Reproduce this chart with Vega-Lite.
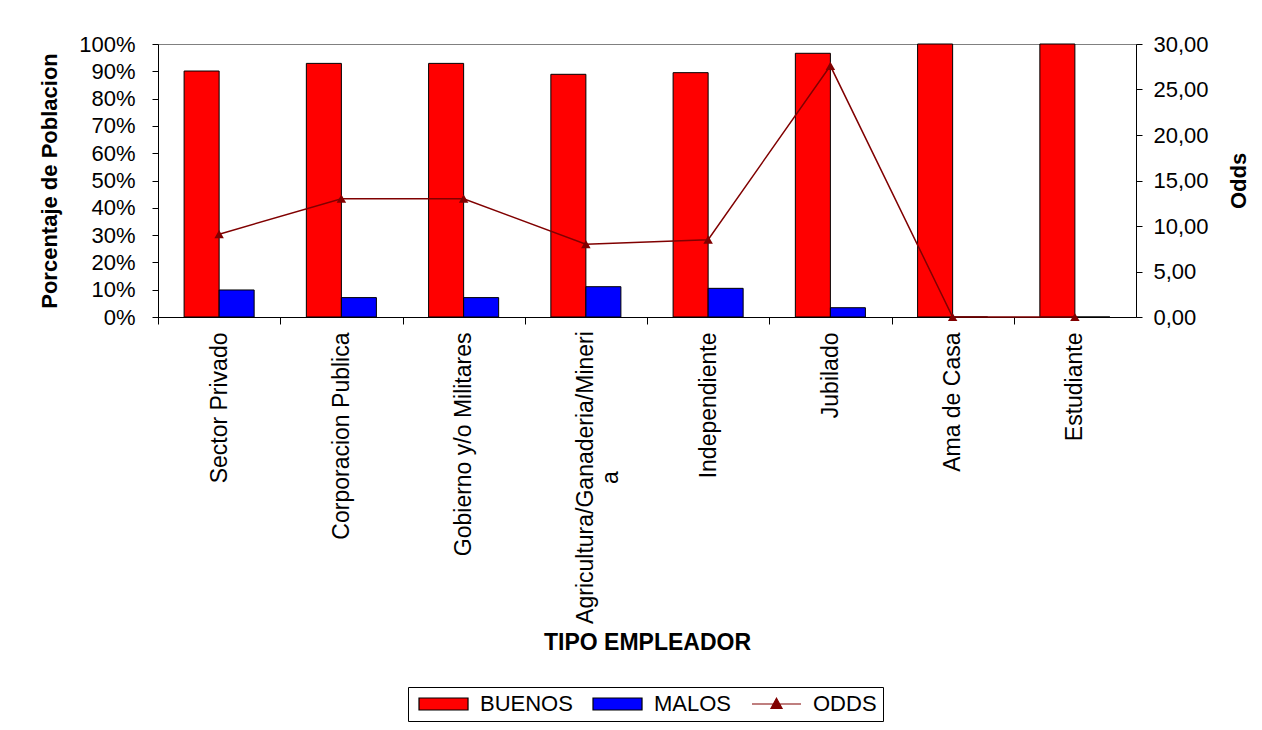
{
  "$schema": "https://vega.github.io/schema/vega-lite/v6.json",
  "width": 978,
  "height": 273,
  "autosize": {"type": "none"},
  "padding": {"left": 158, "top": 44, "right": 126, "bottom": 413},
  "background": "white",
  "data": {
    "values": [
      {"tipo": "Sector Privado", "BUENOS": 0.901, "MALOS": 0.099, "ODDS": 9.1},
      {"tipo": "Corporacion Publica", "BUENOS": 0.929, "MALOS": 0.071, "ODDS": 13.0},
      {"tipo": "Gobierno y/o Militares", "BUENOS": 0.929, "MALOS": 0.071, "ODDS": 13.0},
      {"tipo": "Agricultura/Ganaderia/Mineria", "BUENOS": 0.889, "MALOS": 0.111, "ODDS": 8.0},
      {"tipo": "Independiente", "BUENOS": 0.895, "MALOS": 0.105, "ODDS": 8.5},
      {"tipo": "Jubilado", "BUENOS": 0.966, "MALOS": 0.034, "ODDS": 27.6},
      {"tipo": "Ama de Casa", "BUENOS": 1.0, "MALOS": 0.0, "ODDS": 0.0},
      {"tipo": "Estudiante", "BUENOS": 1.0, "MALOS": 0.0, "ODDS": 0.0}
    ]
  },
  "config": {
    "view": {"stroke": "#808080", "strokeWidth": 1},
    "axis": {
      "grid": false,
      "domainColor": "black",
      "tickColor": "black",
      "labelColor": "black",
      "titleColor": "black",
      "labelFont": "Liberation Sans",
      "titleFont": "Liberation Sans",
      "labelFontWeight": "normal",
      "titleFontWeight": "bold",
      "labelLimit": 0
    },
    "legend": {"labelFont": "Liberation Sans", "labelLimit": 0}
  },
  "layer": [
    {
      "transform": [{"fold": ["BUENOS", "MALOS"], "as": ["serie", "valor"]}],
      "mark": {"type": "bar", "stroke": "black", "strokeWidth": 1},
      "encoding": {
        "x": {
          "field": "tipo",
          "type": "nominal",
          "sort": null,
          "scale": {"paddingInner": 0.427, "paddingOuter": 0.2135},
          "axis": {
            "title": "TIPO EMPLEADOR",
            "titleFontSize": 23,
            "titleBaseline": "top",
            "titleY": 314,
            "labelAngle": -90,
            "labelFontSize": 23,
            "labelLimit": 0,
            "labelAlign": {"condition": {"test": "datum.value == 'Agricultura/Ganaderia/Mineria'", "value": "center"}, "value": "right"},
            "labelPadding": {"condition": {"test": "datum.value == 'Agricultura/Ganaderia/Mineria'", "value": 153}, "value": 8},
            "tickSize": 7,
            "bandPosition": 0.5,
            "tickOffset": -61.125,
            "labelOffset": 61.125,
            "labelExpr": "datum.value == 'Agricultura/Ganaderia/Mineria' ? ['Agricultura/Ganaderia/Mineri', 'a'] : datum.value"
          }
        },
        "xOffset": {
          "field": "serie",
          "type": "nominal",
          "sort": ["BUENOS", "MALOS"],
          "scale": {"paddingInner": 0, "paddingOuter": 0}
        },
        "y": {
          "field": "valor",
          "type": "quantitative",
          "scale": {"domain": [0, 1], "nice": false},
          "axis": {
            "title": "Porcentaje de Poblacion",
            "titleFontSize": 22,
            "titlePadding": 17,
            "values": [0, 0.1, 0.2, 0.3, 0.4, 0.5, 0.6, 0.7, 0.8, 0.9, 1],
            "format": ".0%",
            "labelFontSize": 22,
            "labelPadding": 17,
            "tickSize": 6
          }
        },
        "color": {
          "field": "serie",
          "type": "nominal",
          "scale": {"domain": ["BUENOS", "MALOS", "ODDS"], "range": ["#FF0000", "#0000FF", "#800000"]},
          "legend": {
            "title": null,
            "orient": "none",
            "legendX": 250,
            "legendY": 643,
            "direction": "horizontal",
            "strokeColor": "black",
            "fillColor": "white",
            "padding": 6,
            "symbolSize": 144,
            "symbolType": {"expr": "datum.label === 'ODDS' ? 'M-1,0H7.17M2.15,0.75L3.08,-0.95L4.01,0.75Z' : 'M-1,-1H7.17V1H-1Z'"},
            "symbolStrokeColor": {"expr": "datum.label === 'ODDS' ? '#800000' : 'black'"},
            "symbolStrokeWidth": 1.2,
            "symbolOpacity": 1,
            "labelFontSize": 22,
            "labelOffset": 44,
            "columnPadding": 15
          }
        }
      }
    },
    {
      "mark": {"type": "line", "color": "#800000", "strokeWidth": 1.5},
      "encoding": {
        "x": {"field": "tipo", "type": "nominal", "sort": null},
        "y": {
          "field": "ODDS",
          "type": "quantitative",
          "scale": {"domain": [0, 30], "nice": false},
          "axis": {
            "orient": "right",
            "title": "Odds",
            "titleFontSize": 22,
            "titleAngle": -90,
            "titleBaseline": "top",
            "titlePadding": 20,
            "values": [0, 5, 10, 15, 20, 25, 30],
            "labelExpr": "replace(format(datum.value, '.2f'), '.', ',')",
            "labelFontSize": 22,
            "labelPadding": 11,
            "tickSize": 6
          }
        }
      }
    },
    {
      "mark": {"type": "point", "shape": "triangle-up", "filled": true, "color": "#800000", "size": 90, "opacity": 1},
      "encoding": {
        "x": {"field": "tipo", "type": "nominal", "sort": null},
        "y": {"field": "ODDS", "type": "quantitative", "scale": {"domain": [0, 30], "nice": false}, "axis": null}
      }
    }
  ],
  "resolve": {"scale": {"y": "independent"}}
}
